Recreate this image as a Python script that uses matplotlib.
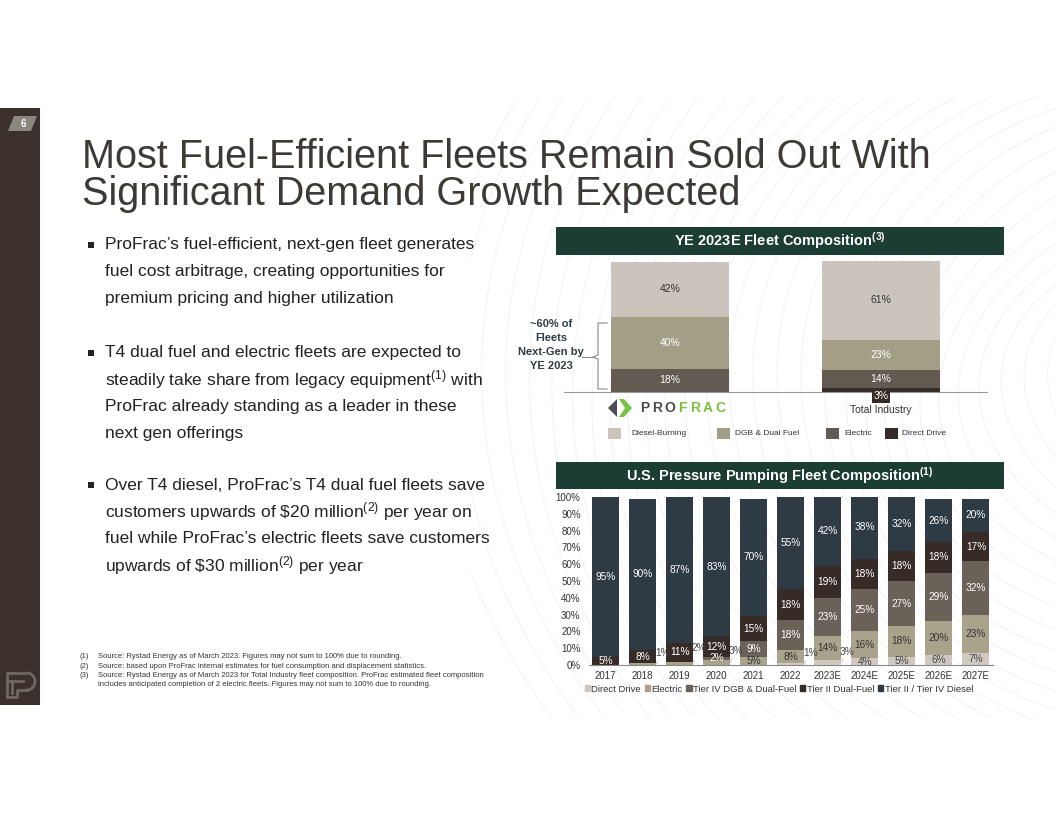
import numpy as np
import matplotlib
matplotlib.use('Agg')
import matplotlib.pyplot as plt
from matplotlib.patches import Rectangle, Polygon, Patch

plt.rcParams['font.family'] = ['Liberation Sans', 'DejaVu Sans']
plt.rcParams['mathtext.fontset'] = 'custom'
plt.rcParams['mathtext.rm'] = 'Liberation Sans'
plt.rcParams['mathtext.bf'] = 'Liberation Sans:bold'
plt.rcParams['mathtext.it'] = 'Liberation Sans:italic'

W, H = 1056, 816

# --- YE 2023E fleet composition (top chart)
fleets = ['ProFrac', 'Total Industry']
ye_direct = [0, 3]
ye_electric = [18, 14]
ye_dgb = [40, 23]
ye_diesel = [42, 61]
ye_names = ['Diesel-Burning', 'DGB & Dual Fuel', 'Electric', 'Direct Drive']

# --- U.S. pressure pumping fleet composition (bottom chart)
years = ['2017', '2018', '2019', '2020', '2021', '2022',
         '2023E', '2024E', '2025E', '2026E', '2027E']
direct_drive = [0, 0, 0, 0, 0, 1, 3, 4, 5, 6, 7]
electric = [0, 1, 2, 3, 5, 8, 14, 16, 18, 20, 23]
tier4_dgb = [0, 0, 0, 2, 9, 18, 23, 25, 27, 29, 32]
tier2_df = [5, 8, 11, 12, 15, 18, 19, 18, 18, 18, 17]
diesel = [95, 90, 87, 83, 70, 55, 42, 38, 32, 26, 20]
series_names = ['Direct Drive', 'Electric', 'Tier IV DGB & Dual-Fuel',
                'Tier II Dual-Fuel', 'Tier II / Tier IV Diesel']

# colours
c_top = ['#cbc4bc', '#a39e86', '#635a52', '#352b27']
c_bot = ['#d0c9c1', '#a8a38a', '#6a6159', '#372b27', '#2e3a44']
green = '#1c3d33'
txt = '#333333'


def fr(x0, y0, x1, y1):
    return [x0 / W, 1 - y1 / H, (x1 - x0) / W, (y1 - y0) / H]


fig = plt.figure(figsize=(W / 100, H / 100), dpi=100)
ov = fig.add_axes([0, 0, 1, 1])
ov.set_xlim(0, W)
ov.set_ylim(H, 0)
ov.axis('off')

# faint background contour lines
th = np.linspace(0, 2 * np.pi, 400)
for r0 in np.arange(120, 760, 21):
    r = r0 + 7 * np.sin(3 * th + r0 / 45.0)
    xs = 1190 + r * np.cos(th)
    ys = 390 + 0.85 * r * np.sin(th)
    m = (xs > 470) & (ys > 95) & (ys < 720)
    xs = np.where(m, xs, np.nan)
    ov.plot(xs, ys, color='#f2f2f2', lw=0.7, zorder=0)

# side bar, page number, logo
ov.add_patch(Rectangle((0, 108), 40, 597, color='#3b302b', lw=0))
ov.add_patch(Polygon([(8, 131), (14, 116), (37, 116), (31, 131)], color='#8c877e', lw=0))
ov.text(23, 124, '6', color='white', fontsize=7, fontweight='bold', ha='center', va='center')
lc = '#6f6761'
ov.plot([7, 7, 27], [697, 673, 673], color=lc, lw=2, solid_capstyle='butt')
t = np.linspace(-np.pi / 2, np.pi / 2, 30)
ov.plot(27 + 8 * np.cos(t), 681.5 + 8.5 * np.sin(t), color=lc, lw=2)
ov.plot([27, 17, 17, 7], [690, 690, 697, 697], color=lc, lw=2)
ov.plot([7, 23], [681, 681], color=lc, lw=2)
ov.plot([12, 12], [681, 693], color=lc, lw=2)

# title
ov.text(82, 168, 'Most Fuel-Efficient Fleets Remain Sold Out With', fontsize=28.5,
        color='#3d3935', va='baseline')
ov.text(82, 205, 'Significant Demand Growth Expected', fontsize=28.5,
        color='#3d3935', va='baseline')

# bullets
bullets = [
    (245, ["ProFrac\u2019s fuel-efficient, next-gen fleet generates",
           "fuel cost arbitrage, creating opportunities for",
           "premium pricing and higher utilization"]),
    (353, ["T4 dual fuel and electric fleets are expected to",
           r"steadily take share from legacy equipment$^{\mathrm{(1)}}$ with",
           "ProFrac already standing as a leader in these",
           "next gen offerings"]),
    (485, ["Over T4 diesel, ProFrac\u2019s T4 dual fuel fleets save",
           r"customers upwards of \$20 million$^{\mathrm{(2)}}$ per year on",
           "fuel while ProFrac\u2019s electric fleets save customers",
           r"upwards of \$30 million$^{\mathrm{(2)}}$ per year"]),
]
for y0, lines in bullets:
    ov.add_patch(Rectangle((88, y0 - 3.5), 6, 6, color='#222222', lw=0))
    for k, line in enumerate(lines):
        ov.text(105, y0 + k * 26.8, line, fontsize=12.5, color='#222222', va='center')

# footnotes
notes = [('(1)', 'Source: Rystad Energy as of March 2023. Figures may not sum to 100% due to rounding.'),
         ('(2)', 'Source: based upon ProFrac internal estimates for fuel consumption and displacement statistics.'),
         ('(3)', 'Source: Rystad Energy as of March 2023 for Total Industry fleet composition. ProFrac estimated fleet composition'),
         ('', 'includes anticipated completion of 2 electric fleets. Figures may not sum to 100% due to rounding.')]
for k, (num, note) in enumerate(notes):
    y = 657 + k * 9.2
    ov.text(80, y, num, fontsize=5.5, color=txt, va='center')
    ov.text(98, y, note, fontsize=5.5, color=txt, va='center')

# header bars
ov.add_patch(Rectangle((556, 227), 448, 28, color=green, lw=0))
ov.text(780, 241, r'YE 2023E Fleet Composition$^{\mathbf{(3)}}$', color='white',
        fontsize=10.5, fontweight='bold', ha='center', va='center')
ov.add_patch(Rectangle((556, 462), 448, 27, color=green, lw=0))
ov.text(780, 475.5, r'U.S. Pressure Pumping Fleet Composition$^{\mathbf{(1)}}$', color='white',
        fontsize=10.5, fontweight='bold', ha='center', va='center')

# bracket annotation
ov.plot([607, 598, 598, 593, 598, 598, 607], [323, 323, 355, 357, 359, 389, 389],
        color='#8a8a8a', lw=0.8)
ov.plot([582, 593], [357, 357], color='#8a8a8a', lw=0.8)
for k, s in enumerate(['~60% of', 'Fleets', 'Next-Gen by', 'YE 2023']):
    ov.text(551, 324 + k * 14, s, fontsize=8, fontweight='bold', color='#2e3a44',
            ha='center', va='center')

# ProFrac logo
ov.add_patch(Polygon([(608, 408), (617, 399), (617, 417)], color='#4d4d4f', lw=0))
ov.add_patch(Polygon([(619, 399), (624, 399), (632, 408), (624, 417), (619, 417), (625, 408)],
                     color='#7ac143', lw=0))
for k, ch in enumerate('PROFRAC'):
    ov.text(645 + k * 12.6, 408.5, ch, fontsize=10, fontweight='bold',
            color='#4d4d4f' if k < 3 else '#7ac143', ha='center', va='center')

# top legend
for (sx, tx), name, col in zip([(608, 631), (717, 735), (826, 844), (885, 902)], ye_names, c_top):
    ov.add_patch(Rectangle((sx, 428), 13, 11, color=col, lw=0))
    ov.text(tx, 433.5, name, fontsize=6, color=txt, va='center')

# ---------- top chart
axA = fig.add_axes(fr(564, 262, 987, 392))
axA.patch.set_alpha(0)
xa = np.arange(len(fleets))
wa = 0.555
bottom = np.zeros(len(fleets))
top_series = [ye_direct, ye_electric, ye_dgb, ye_diesel]
top_cols = [c_top[3], c_top[2], c_top[1], c_top[0]]
top_lab = ['white', 'white', 'white', '#333333']
for vals, col, lcol in zip(top_series, top_cols, top_lab):
    vals = np.array(vals, dtype=float)
    axA.bar(xa, vals, wa, bottom=bottom, color=col, lw=0, clip_on=False)
    for i, v in enumerate(vals):
        if v <= 0:
            continue
        if v < 5:
            axA.text(xa[i], -3.2, f'{v:.0f}%', fontsize=7.5, color='white', ha='center',
                     va='center', bbox=dict(fc=col, ec='none', pad=1.2))
        else:
            axA.text(xa[i], bottom[i] + v / 2, f'{v:.0f}%', fontsize=7.5, color=lcol,
                     ha='center', va='center')
    bottom += vals
axA.set_xlim(-0.502, 1.502)
axA.set_ylim(0, 100)
for s in ['top', 'left', 'right']:
    axA.spines[s].set_visible(False)
axA.spines['bottom'].set_color('#999999')
axA.set_yticks([])
axA.set_xticks([1])
axA.set_xticklabels(['Total Industry'], fontsize=7.5, color=txt)
axA.tick_params(axis='x', length=0, pad=9)

# ---------- bottom chart
axB = fig.add_axes(fr(589, 497, 993, 665))
axB.patch.set_alpha(0)
xb = np.arange(len(years))
wb = 0.73
bottom = np.zeros(len(years))
bot_series = [direct_drive, electric, tier4_dgb, tier2_df, diesel]
lab_cols = ['#444444', '#333333', 'white', 'white', 'white']
# small slices labelled outside with a leader line: (series index, bar index) -> label height
callouts = {(1, 1): 7, (1, 2): 10, (1, 3): 8.5, (0, 5): 7, (0, 6): 8}
for si, (vals, col, lcol) in enumerate(zip(bot_series, c_bot, lab_cols)):
    vals = np.array(vals, dtype=float)
    axB.bar(xb, vals, wb, bottom=bottom, color=col, lw=0, label=series_names[si])
    for i, v in enumerate(vals):
        if v <= 0:
            continue
        if (si, i) in callouts:
            ly = callouts[(si, i)]
            axB.annotate(f'{v:.0f}%', xy=(xb[i] + wb / 2, bottom[i] + v / 2),
                         xytext=(xb[i] + 0.53, ly), fontsize=7.3, color='#444444',
                         ha='center', va='center',
                         arrowprops=dict(arrowstyle='-', color='#bbbbbb', lw=0.6,
                                         shrinkA=4, shrinkB=0))
        else:
            axB.text(xb[i], max(bottom[i] + v / 2, 2.0), f'{v:.0f}%', fontsize=7.3,
                     color=lcol, ha='center', va='center')
    bottom += vals
axB.set_xlim(-0.445, 10.46)
axB.set_ylim(0, 100)
for s in ['top', 'left', 'right']:
    axB.spines[s].set_visible(False)
axB.spines['bottom'].set_color('#888888')
axB.set_yticks(np.arange(0, 101, 10))
axB.set_yticklabels([f'{v}%' for v in range(0, 101, 10)], fontsize=7, color=txt)
axB.set_xticks(xb)
axB.set_xticklabels(years, fontsize=7, color=txt)
axB.tick_params(axis='both', length=0)
axB.tick_params(axis='y', pad=6)
axB.tick_params(axis='x', pad=4)

handles = [Patch(color=c, label=n) for c, n in zip(c_bot, series_names)]
fig.legend(handles=handles, loc='center', bbox_to_anchor=(779 / W, 1 - 689 / H), ncol=5,
           frameon=False, fontsize=6.8, handlelength=0.55, handleheight=0.55,
           handletextpad=0.15, columnspacing=0.4, labelcolor=txt)

fig.savefig('out.png', dpi=100)
